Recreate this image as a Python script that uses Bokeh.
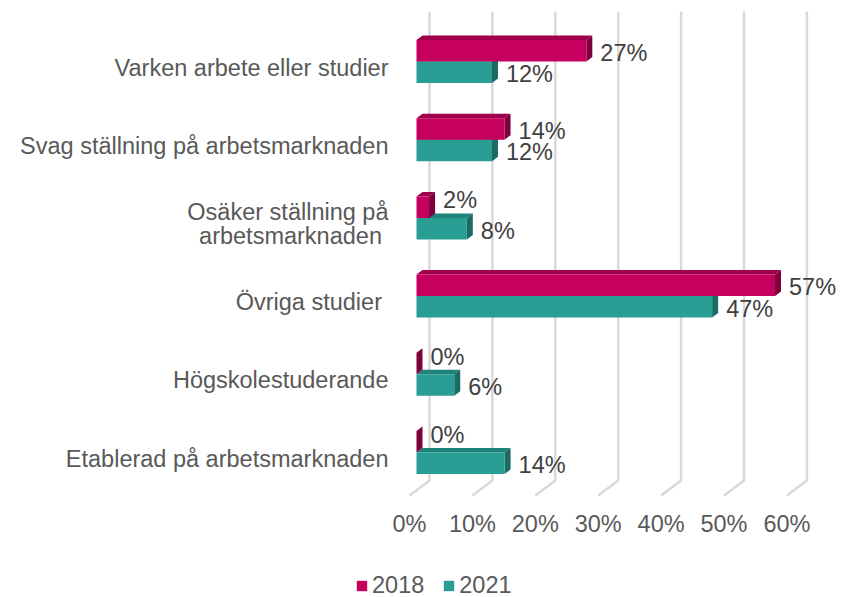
from bokeh.plotting import figure
from bokeh.models import Range1d, Legend, LegendItem, ColumnDataSource
from bokeh.core.properties import value
from bokeh.embed import file_html
from bokeh.resources import INLINE

# ---------------- data ----------------
categories = [
    "Varken arbete eller studier",
    "Svag ställning på arbetsmarknaden",
    "Osäker ställning på\narbetsmarknaden\u00a0",
    "Övriga studier ",
    "Högskolestuderande",
    "Etablerad på arbetsmarknaden",
]
v2018 = [27, 14, 2, 57, 0, 0]
v2021 = [12, 12, 8, 47, 6, 14]
series_names = ["2018", "2021"]
tick_values = [0, 10, 20, 30, 40, 50, 60]
tick_labels = ["0%", "10%", "20%", "30%", "40%", "50%", "60%"]

# ---------------- style / geometry ----------------
W, H = 848, 597
PX_X = 6.29          # pixels per percent
PX_Y = 78.2          # pixels per category
X0_PX = 409          # front-floor 0% position (px from left)
Y0_PX = 459          # centre of the lowest category (px from top)
FONT = "Liberation Sans"
FS = "23.5px"
AXIS_COLOR = "#595959"
LABEL_COLOR = "#404040"
GRID_COLOR = "#D9D9D9"

C18 = ("#C6005F", "#9E004C", "#7E003C")   # front, top, side
C21 = ("#289E94", "#20837A", "#1A6B64")

x_start = -X0_PX / PX_X
x_end = (W - X0_PX) / PX_X
y_end = Y0_PX / PX_Y
y_start = -(H - Y0_PX) / PX_Y

# 3D offsets (in data units)
GX = 20 / PX_X       # back wall depth (x)
GY = 15 / PX_Y       # back wall depth (y)
BX = 7 / PX_X        # bar front plane offset from floor front
DXB = 6 / PX_X       # bar depth x
DYB = 4.5 / PX_Y     # bar depth y
BH = 21.5 / PX_Y     # bar thickness
BOFF = 7 / PX_Y      # boundary offset above category centre
FLOOR = -36 / PX_Y   # front floor edge (relative to lowest category centre)
WALL_TOP = y_end - 11 / PX_Y

p = figure(width=W, height=H, output_backend="svg", toolbar_location=None,
           x_range=Range1d(x_start, x_end), y_range=Range1d(y_start, y_end),
           x_axis_location=None, y_axis_location=None,
           min_border=0, min_border_left=0, min_border_right=0,
           min_border_top=0, min_border_bottom=0)
p.outline_line_color = None
p.xgrid.visible = False
p.ygrid.visible = False

n = len(categories)
centers = [n - 1 - i for i in range(n)]

# ---------- back wall gridlines with floor diagonals ----------
p.multi_line(xs=[[t + GX, t + GX, t] for t in tick_values],
             ys=[[WALL_TOP, FLOOR + GY, FLOOR] for _ in tick_values],
             line_color=GRID_COLOR, line_width=2.5)

# ---------- bars ----------
def bar_shapes(vals, lower):
    fl, fr, fb, ft = [], [], [], []
    top_xs, top_ys, side_xs, side_ys = [], [], [], []
    for c, v in zip(centers, vals):
        b = c + BOFF
        bot = b - BH if lower else b
        top = bot + BH
        x0 = BX
        x1 = v + BX
        fl.append(x0); fr.append(x1); fb.append(bot); ft.append(top)
        top_xs.append([x0, x1, x1 + DXB, x0 + DXB])
        top_ys.append([top, top, top + DYB, top + DYB])
        side_xs.append([x1, x1, x1 + DXB, x1 + DXB])
        side_ys.append([bot, top, top + DYB, bot + DYB])
    return fl, fr, fb, ft, top_xs, top_ys, side_xs, side_ys

renderers = []
for vals, cols, lower in [(v2021, C21, True), (v2018, C18, False)]:
    fl, fr, fb, ft, txs, tys, sxs, sys_ = bar_shapes(vals, lower)
    p.patches(xs=txs, ys=tys, fill_color=cols[1], line_color=None)
    p.patches(xs=sxs, ys=sys_, fill_color=cols[2], line_color=None)
    r = p.quad(left=fl, right=fr, bottom=fb, top=ft, fill_color=cols[0], line_color=None)
    renderers.append(r)
r21, r18 = renderers

# ---------- data labels ----------
for vals, lower in [(v2018, False), (v2021, True)]:
    xs, ys, txt, yoff = [], [], [], []
    for c, v in zip(centers, vals):
        b = c + BOFF
        mid = b - BH / 2 if lower else b + BH / 2
        xs.append(v + BX + DXB)
        ys.append(mid)
        txt.append(f"{v}%")
        yoff.append(-7 if (not lower and v < 5) else 2)
    src = ColumnDataSource(dict(x=xs, y=ys, text=txt, yoff=yoff))
    p.text(x="x", y="y", text="text", source=src, x_offset=8, y_offset="yoff",
           text_font=value(FONT), text_font_size=FS, text_color=LABEL_COLOR,
           text_align="left", text_baseline="middle")

# ---------- category labels (left of the 0 line) ----------
cat_src = ColumnDataSource(dict(x=[tick_values[0]] * n, y=centers, text=categories))
p.text(x="x", y="y", text="text", source=cat_src, x_offset=-21, y_offset=-1,
       text_font=value(FONT), text_font_size=FS, text_color=AXIS_COLOR,
       text_align="right", text_baseline="middle", text_line_height=0.95)

# ---------- value-axis tick labels (under the floor) ----------
tick_src = ColumnDataSource(dict(x=tick_values, y=[FLOOR] * len(tick_values), text=tick_labels))
p.text(x="x", y="y", text="text", source=tick_src, y_offset=28,
       text_font=value(FONT), text_font_size=FS, text_color=AXIS_COLOR,
       text_align="center", text_baseline="middle")

# ---------- legend ----------
legend = Legend(items=[LegendItem(label=series_names[0], renderers=[r18]),
                       LegendItem(label=series_names[1], renderers=[r21])],
                orientation="horizontal", location=(355, -2),
                glyph_width=13, glyph_height=13, label_standoff=4, spacing=18,
                padding=0, margin=0, border_line_color=None,
                background_fill_alpha=0,
                label_text_font=FONT, label_text_font_size=FS,
                label_text_color=AXIS_COLOR)
p.add_layout(legend)

open("out.html", "w").write(file_html(p, INLINE))
